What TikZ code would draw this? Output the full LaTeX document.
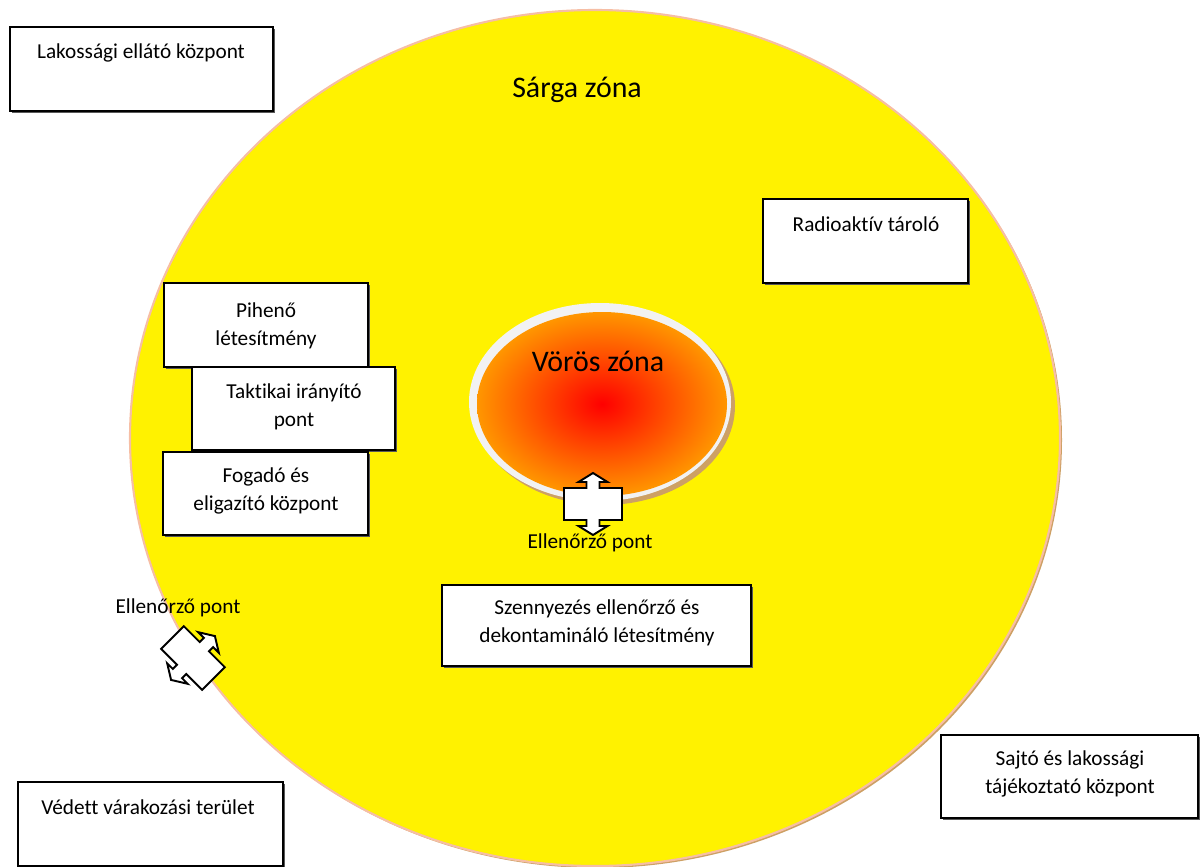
\documentclass[tikz,border=0pt]{standalone}
\usepackage{fontspec}
\setmainfont{Carlito}[Ligatures=CommonOff]

\definecolor{sarga}{RGB}{255,242,0}
\definecolor{szegely}{RGB}{246,190,165}
\definecolor{perem}{RGB}{205,160,100}
\definecolor{gyuru}{RGB}{242,242,242}
\definecolor{narancs}{RGB}{255,150,0}

\tikzset{
  doboz/.style={draw=black, line width=1.1pt, fill=white},
  arnyek/.style={fill=black!65},
  felirat/.style={align=center, inner sep=0pt,
    font=\fontsize{12.1}{15.6}\selectfont},
  zonanev/.style={inner sep=0pt, font=\fontsize{17}{20}\selectfont},
  kapu/.pic={
    \draw[fill=white, line width=1.1pt, line join=miter]
      (-29,-16) -- (-6.5,-16) -- (-6.5,-22) -- (-14.5,-22) -- (0,-31)
      -- (14.5,-22) -- (6.5,-22) -- (6.5,-16) -- (29,-16) -- (29,16)
      -- (6.5,16) -- (6.5,22) -- (14.5,22) -- (0,31) -- (-14.5,22)
      -- (-6.5,22) -- (-6.5,16) -- (-29,16) -- cycle;
  }
}

\begin{document}
\begin{tikzpicture}[x=0.02cm, y=-0.02cm]
  \useasboundingbox (0,0) rectangle (1200,866);

  % sarga zona
  \fill[perem] (597,440) ellipse [x radius=465, y radius=428];
  \fill[sarga, draw=szegely, line width=1.2pt] (595,438) ellipse [x radius=465, y radius=428];
  \node[zonanev] (sarga) at (577,90) {Sárga zóna};

  % voros zona
  \fill[perem] (604,406) ellipse [x radius=131, y radius=99];
  \fill[gyuru] (600,402) ellipse [x radius=131, y radius=99];
  \shade[inner color=red, outer color=narancs] (602,404) ellipse [x radius=125, y radius=92];
  \node[zonanev] (voros) at (598,361) {Vörös zóna};

  % dobozok
  \fill[arnyek] (12,29) rectangle (275,113);
  \draw[doboz] (10,27) rectangle (273,111);
  \node[felirat] (lakos) at (141,53) {Lakossági ellátó központ};

  \fill[arnyek] (765,201) rectangle (970,285);
  \draw[doboz] (763,199) rectangle (968,283);
  \node[felirat] (tarolo) at (866,224) {Radioaktív tároló};

  \fill[arnyek] (166,285) rectangle (370,369);
  \draw[doboz] (164,283) rectangle (368,367);
  \node[felirat] (piheno) at (266,326) {Pihenő\\létesítmény};

  \fill[arnyek] (194,369) rectangle (397,452);
  \draw[doboz] (192,367) rectangle (395,450);
  \node[felirat] (taktikai) at (294,407) {Taktikai irányító\\pont};

  \fill[arnyek] (165,454) rectangle (370,537);
  \draw[doboz] (163,452) rectangle (368,535);
  \node[felirat] (fogado) at (266,491) {Fogadó és\\eligazító központ};

  \fill[arnyek] (444,587) rectangle (753,668);
  \draw[doboz] (442,585) rectangle (751,666);
  \node[felirat] (dekon) at (597,623) {Szennyezés ellenőrző és\\dekontamináló létesítmény};

  \fill[arnyek] (943,737) rectangle (1200,820);
  \draw[doboz] (941,735) rectangle (1198,818);
  \node[felirat] (sajto) at (1070,774) {Sajtó és lakossági\\tájékoztató központ};

  \fill[arnyek] (20,784) rectangle (285,868);
  \draw[doboz] (18,782) rectangle (283,866);
  \node[felirat] (vedett) at (148,807) {Védett várakozási terület};

  % ellenorzo pontok
  \pic (kapu1) at (593,504) {kapu};
  \node[felirat] (ell1) at (590,543) {Ellenőrző pont};
  \pic[rotate=-45] (kapu2) at (193,658) {kapu};
  \node[felirat] (ell2) at (178,608) {Ellenőrző pont};
\end{tikzpicture}
\end{document}
